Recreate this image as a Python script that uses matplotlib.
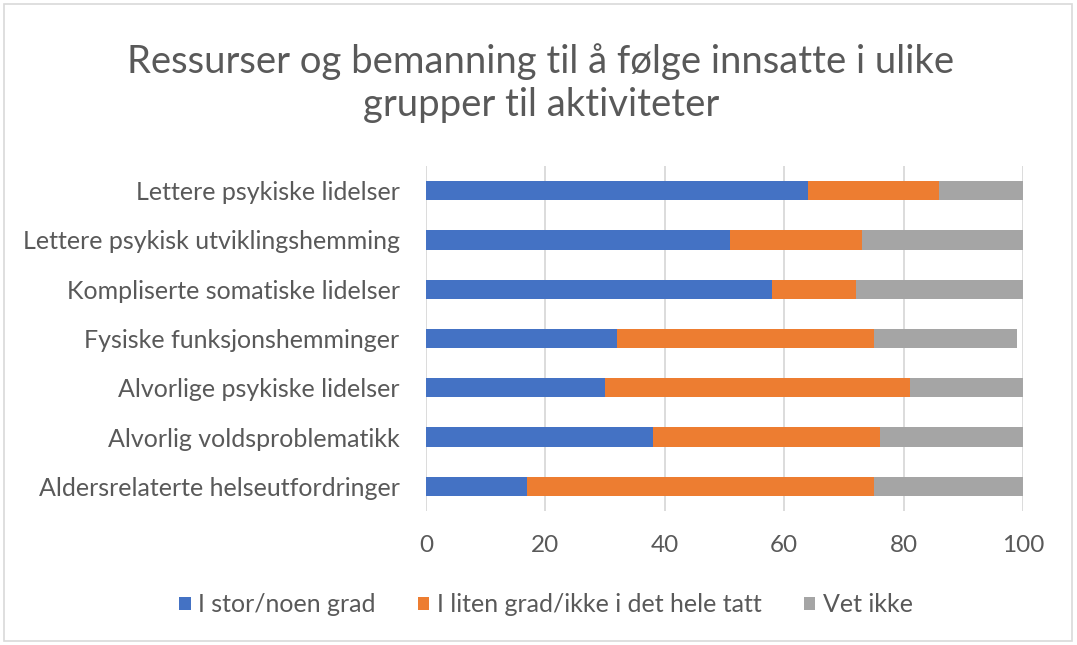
import matplotlib
matplotlib.use("Agg")
import matplotlib.pyplot as plt
from matplotlib.patches import Rectangle, Patch

categories = [
    "Lettere psykiske lidelser",
    "Lettere psykisk utviklingshemming",
    "Kompliserte somatiske lidelser",
    "Fysiske funksjonshemminger",
    "Alvorlige psykiske lidelser",
    "Alvorlig voldsproblematikk",
    "Aldersrelaterte helseutfordringer",
]
stor = [64, 51, 58, 32, 30, 38, 17]
liten = [22, 22, 14, 43, 51, 38, 58]
vet_ikke = [14, 27, 28, 24, 19, 24, 25]
series_names = ["I stor/noen grad", "I liten grad/ikke i det hele tatt", "Vet ikke"]
xticks = [0, 20, 40, 60, 80, 100]
title = "Ressurser og bemanning til å følge innsatte i ulike\ngrupper til aktiviteter"

colors = ["#4472C4", "#ED7D31", "#A5A5A5"]
txt = "#595959"
plt.rcParams["font.family"] = ["Lato", "DejaVu Sans"]

fig = plt.figure(figsize=(10.77, 6.45), dpi=100)
ax = fig.add_axes([426 / 1077, 1 - 511 / 645, 597 / 1077, 345 / 645])

y = list(range(len(categories)))
left = [0] * len(categories)
for vals, c, name in zip([stor, liten, vet_ikke], colors, series_names):
    ax.barh(y, vals, left=left, height=0.39, color=c, label=name, zorder=3)
    left = [a + b for a, b in zip(left, vals)]

ax.set_ylim(len(categories) - 0.5, -0.5)
ax.set_xlim(0, 100)
ax.set_yticks(y)
ax.set_yticklabels(categories, fontsize=18, color=txt)
ax.set_xticks(xticks)
ax.set_xticklabels([str(t) for t in xticks], fontsize=17.5, color=txt)
ax.tick_params(axis="both", length=0)
ax.tick_params(axis="y", pad=19)
ax.tick_params(axis="x", pad=17)
ax.grid(axis="x", color="#D9D9D9", linewidth=1.3, zorder=0)
for s in ax.spines.values():
    s.set_visible(False)

fig.text(541 / 1077, 1 - 83 / 645, title, ha="center", va="center", fontsize=27.5,
         color=txt, linespacing=1.27)

handles = [Patch(facecolor=c, edgecolor="none") for c in colors]
fig.legend(handles, series_names, loc="center", bbox_to_anchor=(546 / 1077, 1 - 605 / 645),
           ncol=3, frameon=False, fontsize=18, labelcolor=txt,
           handlelength=0.45, handleheight=0.45, handletextpad=0.3, columnspacing=1.7)

fig.patches.append(Rectangle((4 / 1077, 4 / 645), 1068 / 1077, 637 / 645,
                             transform=fig.transFigure, fill=False,
                             edgecolor="#D9D9D9", linewidth=1.2))

fig.savefig("out.png", dpi=100)
